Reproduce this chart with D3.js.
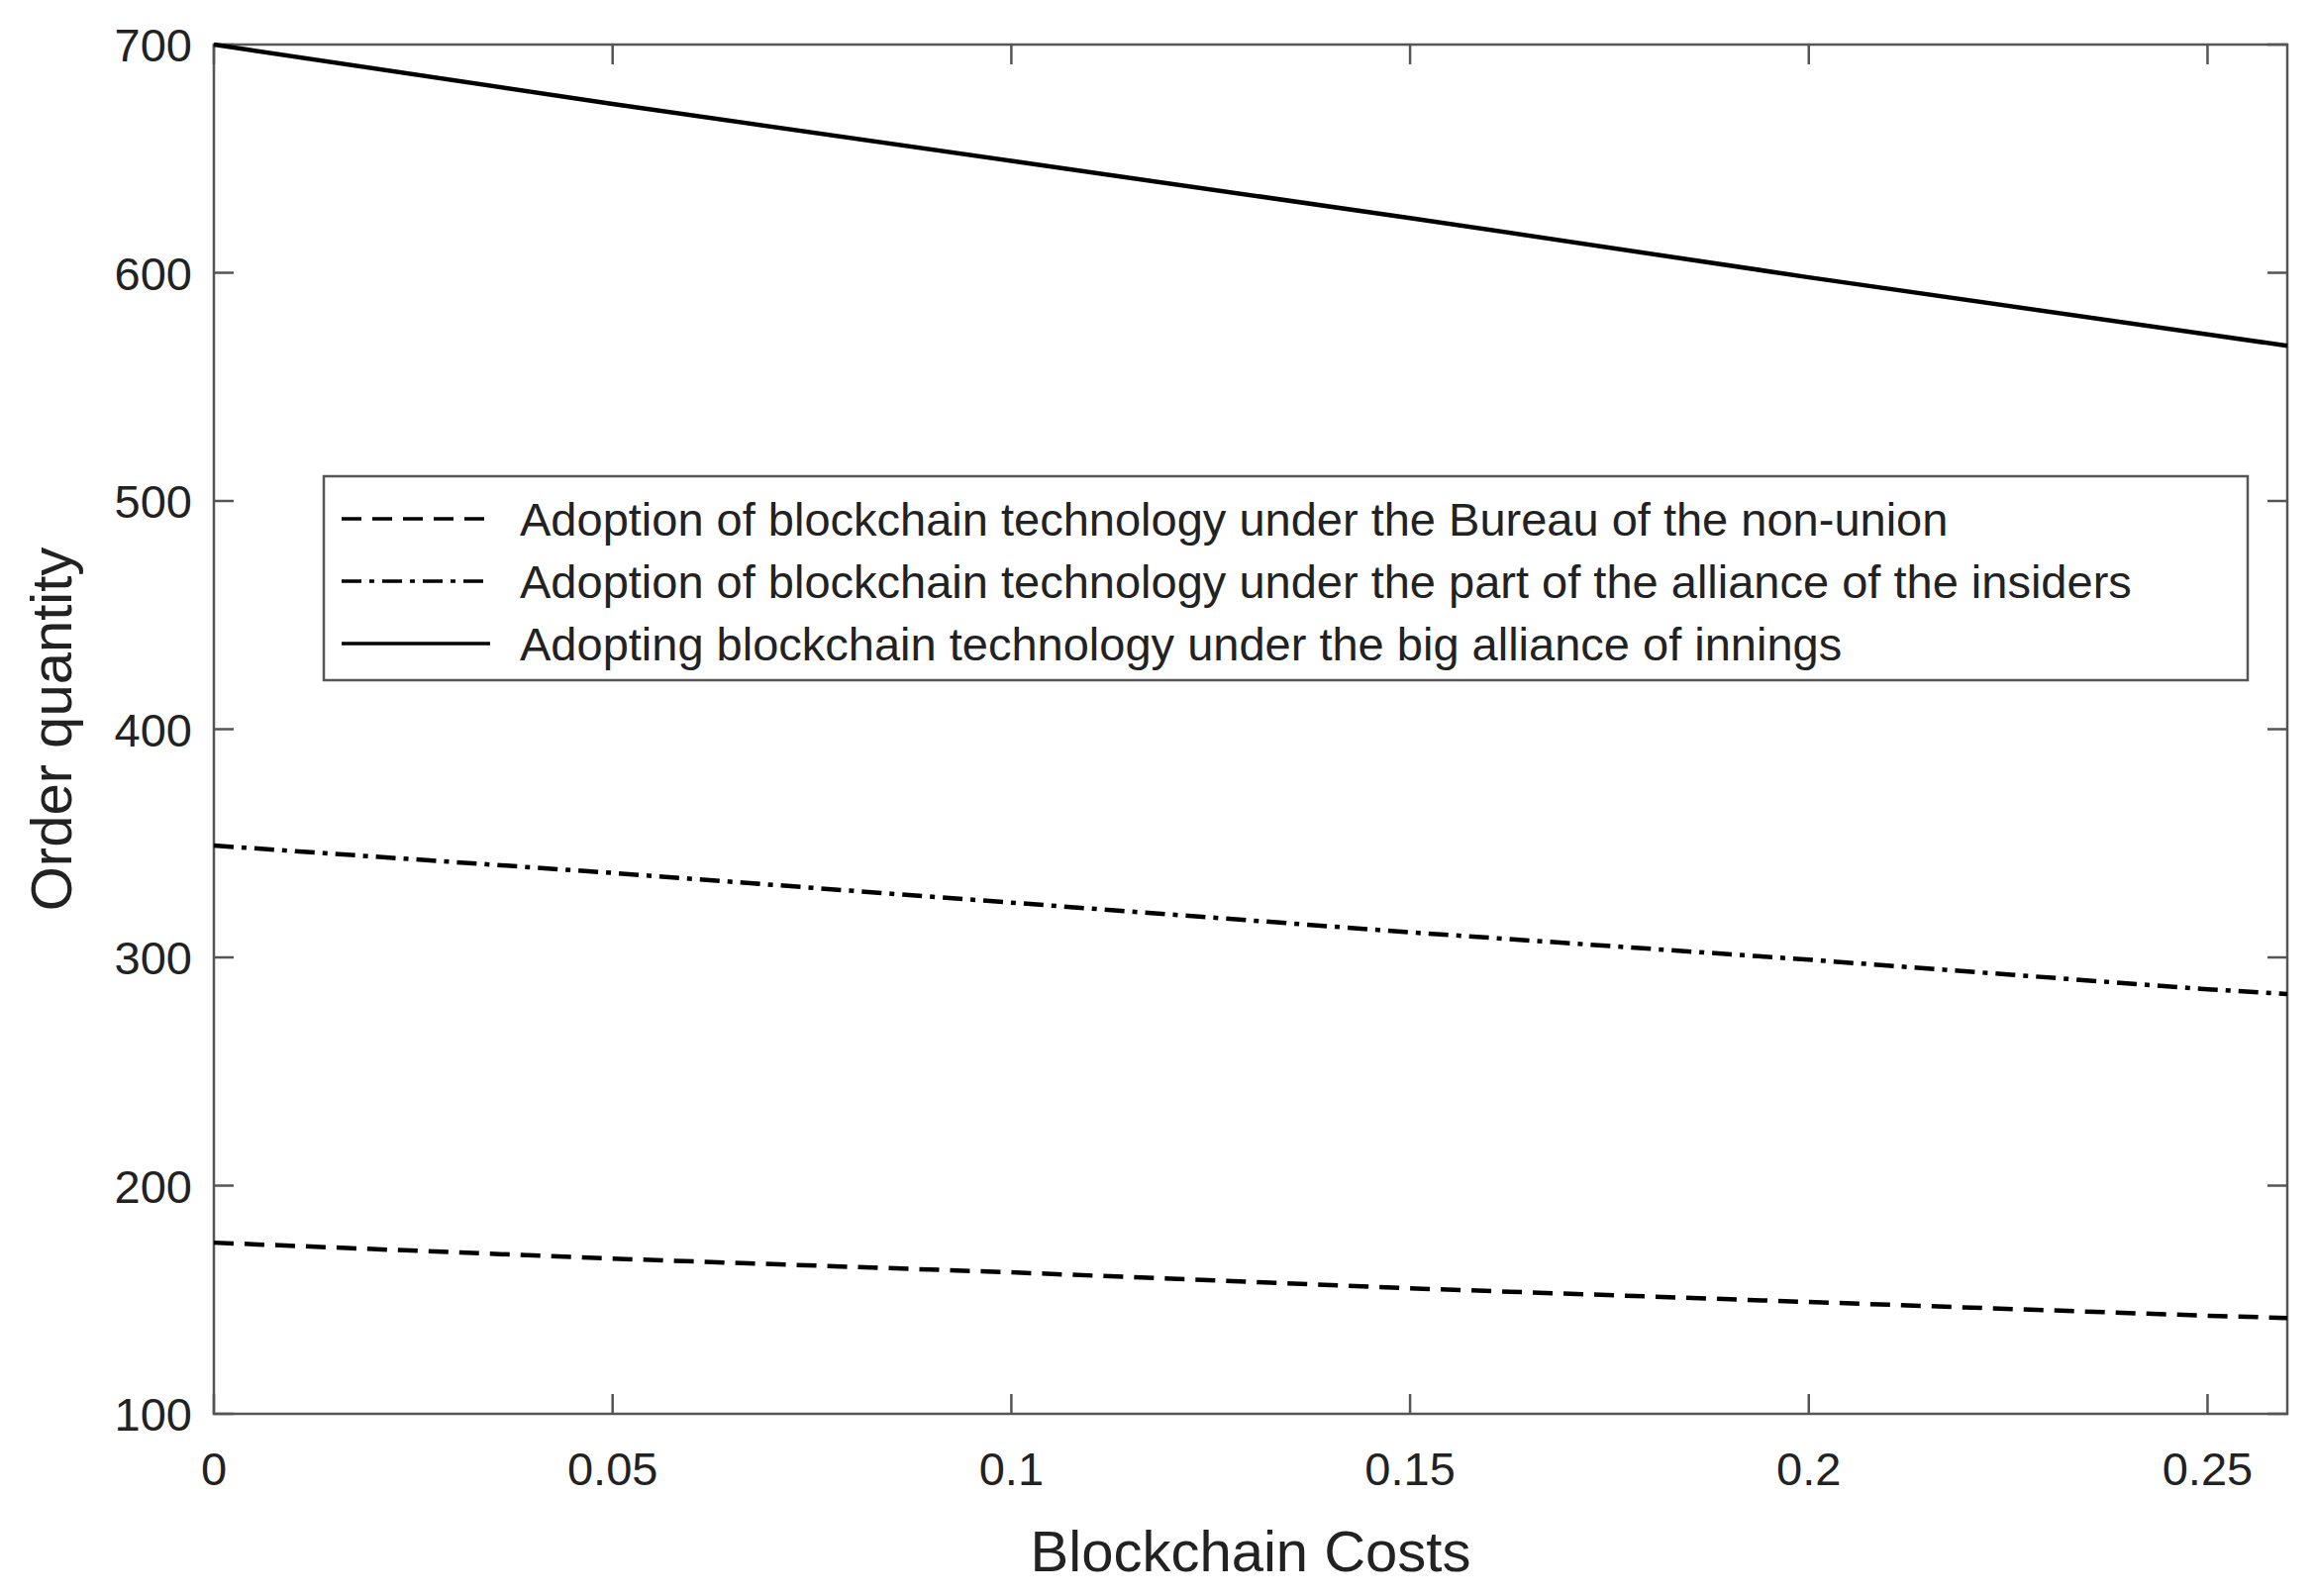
<!DOCTYPE html>
<html><head><meta charset="utf-8">
<script src="https://cdn.jsdelivr.net/npm/d3@7"></script>
<style>body{margin:0;background:#fff}</style></head>
<body><svg id="c" width="2339" height="1612"></svg>
<script>
const xValues=[0,0.05,0.1,0.15,0.2,0.25,0.26];
const nonUnion=[175,168,162,155,149,143,142];
const partAlliance=[349,337,324,311,299,286,284];
const bigAlliance=[700,674,649,624,598,573,568];
const seriesNames=["Adoption of blockchain technology under the Bureau of the non-union","Adoption of blockchain technology under the part of the alliance of the insiders","Adopting blockchain technology under the big alliance of innings"];
const xTicks=[0,0.05,0.1,0.15,0.2,0.25];
const yTicks=[100,200,300,400,500,600,700];
const dashes=["20,11","20,8,5,8",null];

const svg=d3.select("#c");
const L=216,R=2310,T=45,B=1428;
const x=d3.scaleLinear().domain([0,0.26]).range([L,R]);
const y=d3.scaleLinear().domain([100,700]).range([B,T]);
const font="'Liberation Sans',Arial,sans-serif";
const ax="#555";
svg.append("rect").attr("x",L).attr("y",T).attr("width",R-L).attr("height",B-T).attr("fill","none").attr("stroke",ax).attr("stroke-width",2.5);
const tl=20;
xTicks.forEach(t=>{
  svg.append("line").attr("x1",x(t)).attr("x2",x(t)).attr("y1",B).attr("y2",B-tl).attr("stroke",ax).attr("stroke-width",2.5);
  svg.append("line").attr("x1",x(t)).attr("x2",x(t)).attr("y1",T).attr("y2",T+tl).attr("stroke",ax).attr("stroke-width",2.5);
  svg.append("text").attr("x",x(t)).attr("y",1500).attr("text-anchor","middle").attr("font-family",font).attr("font-size",47).attr("fill","#222").text(d3.format("")(t));
});
yTicks.forEach(t=>{
  svg.append("line").attr("x1",L).attr("x2",L+tl).attr("y1",y(t)).attr("y2",y(t)).attr("stroke",ax).attr("stroke-width",2.5);
  svg.append("line").attr("x1",R).attr("x2",R-tl).attr("y1",y(t)).attr("y2",y(t)).attr("stroke",ax).attr("stroke-width",2.5);
  svg.append("text").attr("x",L-22).attr("y",y(t)+17).attr("text-anchor","end").attr("font-family",font).attr("font-size",47).attr("fill","#222").text(t);
});
svg.append("text").attr("x",(L+R)/2).attr("y",1587).attr("text-anchor","middle").attr("font-family",font).attr("font-size",58).attr("fill","#222").text("Blockchain Costs");
svg.append("text").attr("transform",`translate(72,${(T+B)/2}) rotate(-90)`).attr("text-anchor","middle").attr("font-family",font).attr("font-size",58).attr("fill","#222").text("Order quantity");
const line=d3.line().x((d,i)=>x(xValues[i])).y(d=>y(d));
[nonUnion,partAlliance,bigAlliance].forEach((s,i)=>{
  svg.append("path").attr("d",line(s)).attr("fill","none").attr("stroke","#000").attr("stroke-width",4.5).attr("stroke-dasharray",dashes[i]);
});
const lx=327,ly=481,lw=1943,lh=206;
svg.append("rect").attr("x",lx).attr("y",ly).attr("width",lw).attr("height",lh).attr("fill","#fff").attr("stroke",ax).attr("stroke-width",2.5);
seriesNames.forEach((n,i)=>{
  const yy=ly+43+i*63;
  svg.append("line").attr("x1",lx+18).attr("x2",lx+168).attr("y1",yy).attr("y2",yy).attr("stroke","#000").attr("stroke-width",3.5).attr("stroke-dasharray",dashes[i]);
  svg.append("text").attr("x",lx+198).attr("y",yy+17).attr("font-family",font).attr("font-size",47).attr("fill","#222").text(n);
});
</script></body></html>
